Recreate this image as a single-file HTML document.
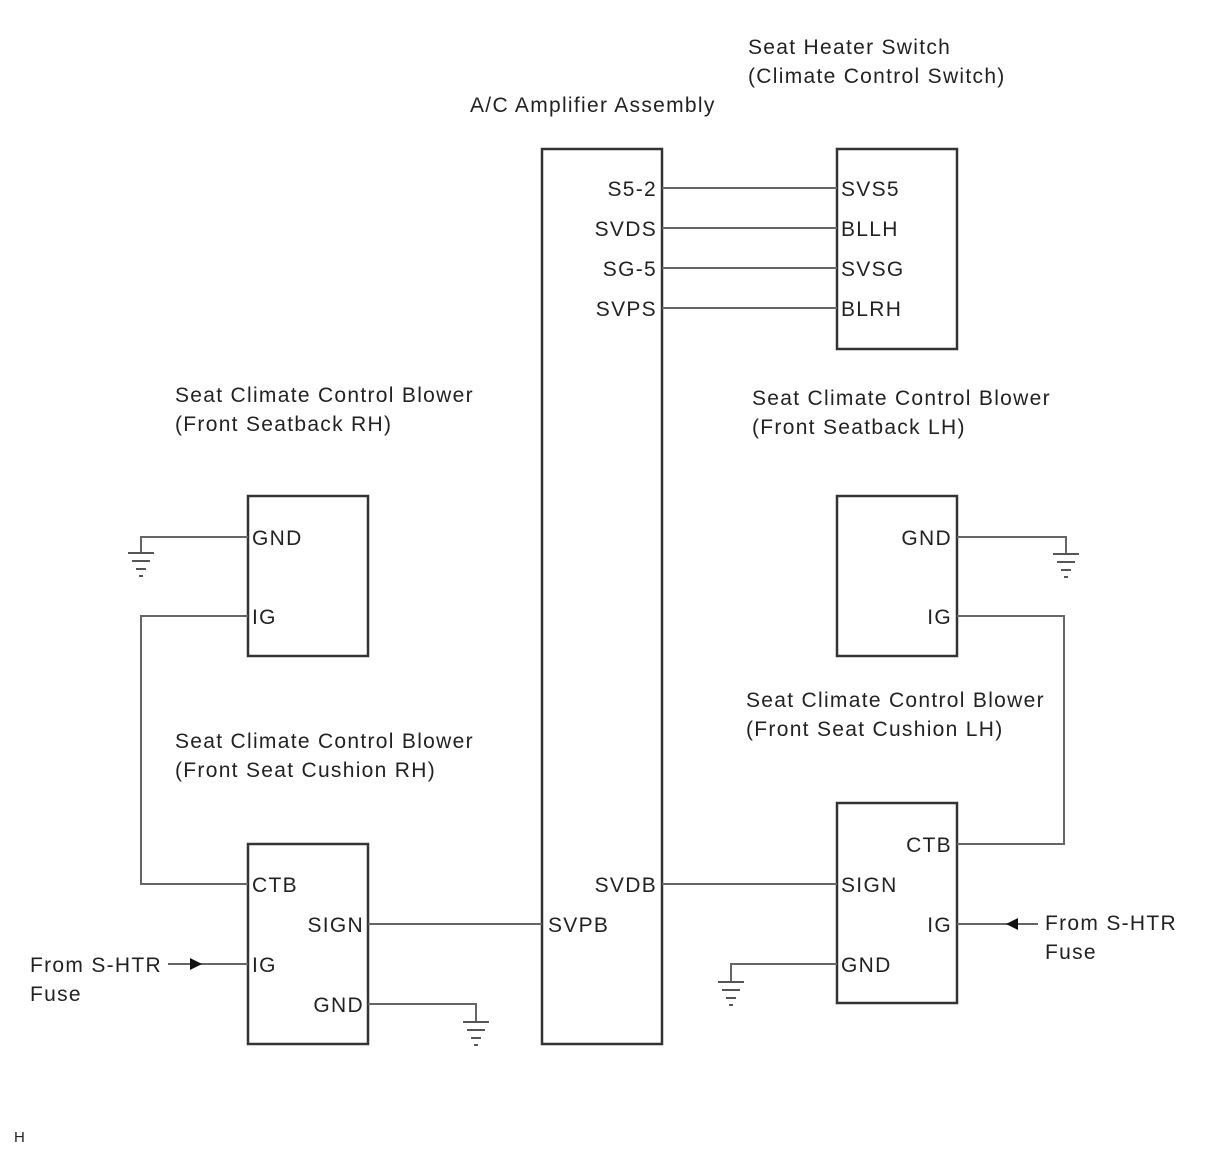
<!DOCTYPE html>
<html><head><meta charset="utf-8"><style>
body{margin:0;background:#fff}
svg{display:block}
text{font-family:"Liberation Sans",sans-serif;font-size:21px;fill:#222;letter-spacing:1.3px}
</style></head><body>
<svg width="1210" height="1156" viewBox="0 0 1210 1156">
<defs>
<g id="gnd" stroke="#555" stroke-width="2"><line x1="-13" y1="0" x2="13" y2="0"/><line x1="-9" y1="8" x2="9" y2="8"/><line x1="-5" y1="16" x2="5" y2="16"/><line x1="-2" y1="23" x2="2" y2="23"/></g>
</defs>
<g fill="none" stroke="#333" stroke-width="2.5">
<rect x="542" y="149" width="120" height="895"/>
<rect x="837" y="149" width="120" height="200"/>
<rect x="248" y="496" width="120" height="160"/>
<rect x="837" y="496" width="120" height="160"/>
<rect x="248" y="844" width="120" height="200"/>
<rect x="837" y="803" width="120" height="200"/>
</g>
<g fill="none" stroke="#666" stroke-width="2">
<line x1="662" y1="188" x2="837" y2="188"/>
<line x1="662" y1="228" x2="837" y2="228"/>
<line x1="662" y1="268" x2="837" y2="268"/>
<line x1="662" y1="308" x2="837" y2="308"/>
<polyline points="248,537 141,537 141,552"/>
<polyline points="248,616 141,616 141,884 248,884"/>
<line x1="368" y1="924" x2="542" y2="924"/>
<line x1="168" y1="964" x2="248" y2="964"/>
<polyline points="368,1004 476,1004 476,1021"/>
<polyline points="957,537 1066,537 1066,553"/>
<polyline points="957,616 1064,616 1064,844 957,844"/>
<line x1="662" y1="884" x2="837" y2="884"/>
<line x1="957" y1="924" x2="1038" y2="924"/>
<polyline points="837,964 731,964 731,981"/>
</g>
<use href="#gnd" x="141" y="553"/>
<use href="#gnd" x="476" y="1022"/>
<use href="#gnd" x="1066" y="554"/>
<use href="#gnd" x="731" y="982"/>
<polygon points="190,958 202,964 190,970" fill="#111"/>
<polygon points="1018,918 1006,924 1018,930" fill="#111"/>
<text x="470" y="112">A/C Amplifier Assembly</text>
<text x="748" y="54">Seat Heater Switch</text>
<text x="748" y="83">(Climate Control Switch)</text>
<text x="175" y="402">Seat Climate Control Blower</text>
<text x="175" y="431">(Front Seatback RH)</text>
<text x="752" y="405">Seat Climate Control Blower</text>
<text x="752" y="434">(Front Seatback LH)</text>
<text x="175" y="748">Seat Climate Control Blower</text>
<text x="175" y="777">(Front Seat Cushion RH)</text>
<text x="746" y="707">Seat Climate Control Blower</text>
<text x="746" y="736">(Front Seat Cushion LH)</text>
<g text-anchor="end">
<text x="657" y="196">S5-2</text>
<text x="657" y="236">SVDS</text>
<text x="657" y="276">SG-5</text>
<text x="657" y="316">SVPS</text>
<text x="657" y="892">SVDB</text>
<text x="364" y="932">SIGN</text>
<text x="364" y="1012">GND</text>
<text x="952" y="545">GND</text>
<text x="952" y="624">IG</text>
<text x="952" y="852">CTB</text>
<text x="952" y="932">IG</text>
</g>
<text x="841" y="196">SVS5</text>
<text x="841" y="236">BLLH</text>
<text x="841" y="276">SVSG</text>
<text x="841" y="316">BLRH</text>
<text x="252" y="545">GND</text>
<text x="252" y="624">IG</text>
<text x="252" y="892">CTB</text>
<text x="252" y="972">IG</text>
<text x="548" y="932">SVPB</text>
<text x="841" y="892">SIGN</text>
<text x="841" y="972">GND</text>
<text x="30" y="972">From S-HTR</text>
<text x="30" y="1001">Fuse</text>
<text x="1045" y="930">From S-HTR</text>
<text x="1045" y="959">Fuse</text>
<text x="14" y="1142" style="font-size:15px;letter-spacing:0">H</text>
</svg>
</body></html>
